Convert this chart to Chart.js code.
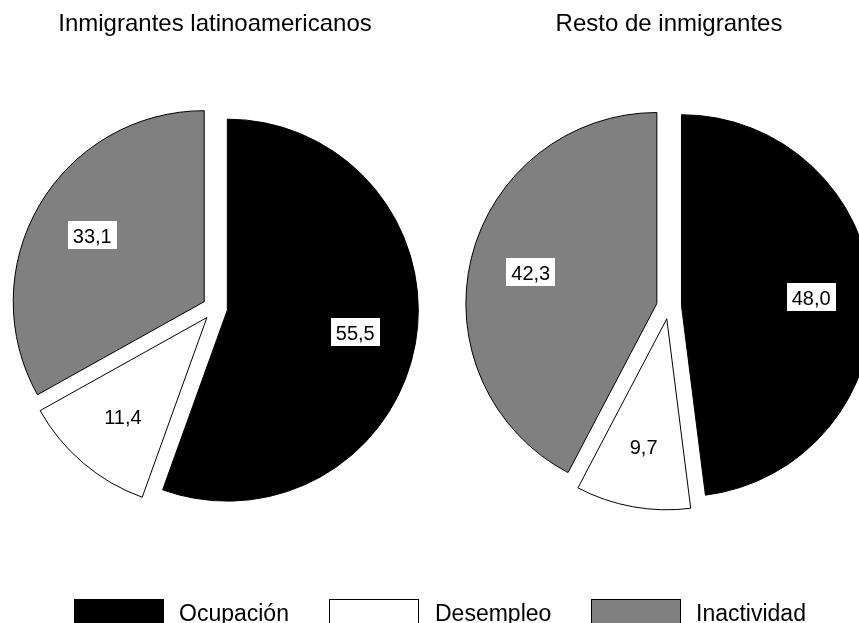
<!DOCTYPE html>
<html>
<head>
<meta charset="utf-8">
<script src="https://cdn.jsdelivr.net/npm/chart.js@4.4.1/dist/chart.umd.min.js"></script>
<style>
  html, body { margin: 0; padding: 0; background: #fff; }
  #wrap { position: relative; width: 859px; height: 623px; overflow: hidden; background: #fff;
          font-family: "Liberation Sans", Arial, sans-serif; color: #000; }
  canvas { position: absolute; top: 0; }
  .title { position: absolute; top: 11px; font-size: 24px; line-height: 24px; white-space: nowrap;
           transform: translateX(-50%); }
  .lbox { position: absolute; top: 599px; width: 88px; height: 30px; border: 1px solid #000; box-sizing: content-box; }
  .ltext { position: absolute; top: 602px; font-size: 23px; line-height: 23px; white-space: nowrap; }
</style>
</head>
<body>
<div id="wrap">
  <canvas id="c1" width="430" height="616" style="left:0px"></canvas>
  <canvas id="c2" width="430" height="613" style="left:454px"></canvas>
</div>
<script>
const categories = ['Ocupación', 'Desempleo', 'Inactividad'];
const latinoamericanos = [55.5, 11.4, 33.1];
const restoInmigrantes = [48.0, 9.7, 42.3];
const chartTitles = ['Inmigrantes latinoamericanos', 'Resto de inmigrantes'];
const sliceColors = ['#000000', '#ffffff', '#808080'];

const EXPLODE = 12.5;   // pixel distance each slice is pulled out from the centre

const wrap = document.getElementById('wrap');

// titles
[[chartTitles[0], 215], [chartTitles[1], 669]].forEach(([t, x]) => {
  const d = document.createElement('div');
  d.className = 'title';
  d.textContent = t;
  d.style.left = x + 'px';
  wrap.appendChild(d);
});

// legend
const legendBoxX = [74, 329, 591];
const legendTextX = [179, 435, 696];
categories.forEach((c, i) => {
  const b = document.createElement('div');
  b.className = 'lbox';
  b.style.left = legendBoxX[i] + 'px';
  b.style.background = sliceColors[i];
  wrap.appendChild(b);
  const t = document.createElement('div');
  t.className = 'ltext';
  t.style.left = legendTextX[i] + 'px';
  t.textContent = c;
  wrap.appendChild(t);
});

const fmt = v => v.toFixed(1).replace('.', ',');

// pull every slice out by the same distance along its mid angle
const explodePlugin = {
  id: 'explode',
  beforeDatasetsDraw(chart) {
    const a = chart.chartArea;
    const cx = (a.left + a.right) / 2;
    const cy = (a.top + a.bottom) / 2;
    chart.getDatasetMeta(0).data.forEach(arc => {
      const mid = (arc.startAngle + arc.endAngle) / 2;
      arc.x = cx + Math.cos(mid) * EXPLODE;
      arc.y = cy + Math.sin(mid) * EXPLODE;
    });
  }
};

const labelPlugin = {
  id: 'sliceLabels',
  afterDatasetsDraw(chart) {
    const ctx = chart.ctx;
    const meta = chart.getDatasetMeta(0);
    const data = chart.data.datasets[0].data;
    ctx.save();
    ctx.font = '20px "Liberation Sans", Arial, sans-serif';
    ctx.textAlign = 'center';
    ctx.textBaseline = 'alphabetic';
    meta.data.forEach((arc, i) => {
      const mid = (arc.startAngle + arc.endAngle) / 2;
      const d = arc.outerRadius * 0.68;
      const cx = arc.x + Math.cos(mid) * d;
      const cy = arc.y + Math.sin(mid) * d;
      const txt = fmt(data[i]);
      const w = ctx.measureText(txt).width;
      ctx.fillStyle = '#ffffff';
      ctx.fillRect(Math.round(cx - w / 2 - 5), Math.round(cy - 14.5), Math.round(w + 10), 28);
      ctx.fillStyle = '#000000';
      ctx.fillText(txt, cx, cy + 7.2);
    });
    ctx.restore();
  }
};

function makePie(id, values) {
  return new Chart(document.getElementById(id), {
    type: 'pie',
    data: {
      labels: categories,
      datasets: [{
        data: values,
        backgroundColor: sliceColors,
        borderColor: '#000000',
        borderWidth: 1
      }]
    },
    options: {
      responsive: false,
      animation: false,
      events: [],
      radius: 191,
      layout: { padding: 0 },
      plugins: { legend: { display: false }, title: { display: false }, tooltip: { enabled: false } }
    },
    plugins: [explodePlugin, labelPlugin]
  });
}

makePie('c1', latinoamericanos);
makePie('c2', restoInmigrantes);
</script>
</body>
</html>
